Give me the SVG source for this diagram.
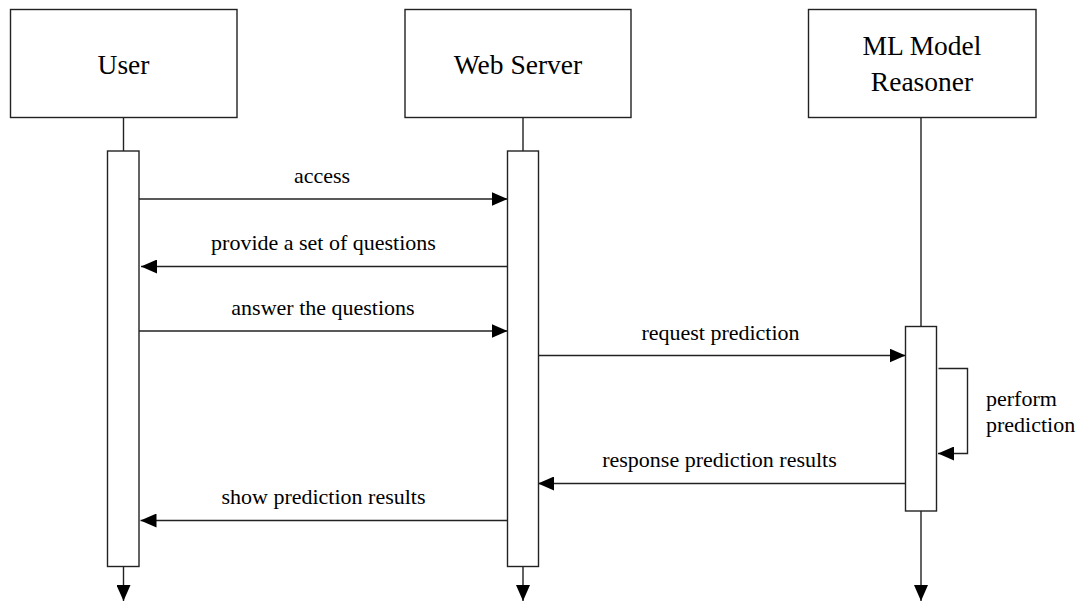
<svg xmlns="http://www.w3.org/2000/svg" width="1081" height="601" viewBox="0 0 1081 601">
<style>
.box{fill:#fff;stroke:#222;stroke-width:1.4}
.line{fill:none;stroke:#222;stroke-width:1.4}
.head{font-family:"Liberation Serif","Times New Roman",serif;font-size:27.5px;fill:#000;text-anchor:middle}
.lbl{font-family:"Liberation Serif","Times New Roman",serif;font-size:22px;fill:#000;text-anchor:middle}
.lbll{font-family:"Liberation Serif","Times New Roman",serif;font-size:22px;fill:#000}
</style>
<defs>
<marker id="arr" markerWidth="16" markerHeight="14" refX="16" refY="7" orient="auto" markerUnits="userSpaceOnUse">
<path d="M0,0 L16,7 L0,14 Z" fill="#000"/>
</marker>
</defs>
<rect width="1081" height="601" fill="#fff"/>
<g id="connectors">
<!-- lifelines -->
<line class="line" x1="123.5" y1="117" x2="123.5" y2="151"/>
<line class="line" x1="123.5" y1="566" x2="123.5" y2="601" marker-end="url(#arr)"/>
<line class="line" x1="523" y1="117" x2="523" y2="151"/>
<line class="line" x1="523" y1="566" x2="523" y2="601" marker-end="url(#arr)"/>
<line class="line" x1="921" y1="117" x2="921" y2="326"/>
<line class="line" x1="921" y1="511" x2="921" y2="601" marker-end="url(#arr)"/>
<!-- messages -->
<line class="line" x1="139" y1="199" x2="507.5" y2="199" marker-end="url(#arr)"/>
<line class="line" x1="511" y1="266.5" x2="141" y2="266.5" marker-end="url(#arr)"/>
<line class="line" x1="139" y1="331" x2="507.5" y2="331" marker-end="url(#arr)"/>
<line class="line" x1="538.5" y1="355.5" x2="905.5" y2="355.5" marker-end="url(#arr)"/>
<path class="line" d="M938.5,368.5 H967.5 V453.5 H938" marker-end="url(#arr)"/>
<line class="line" x1="905.5" y1="483.5" x2="538" y2="483.5" marker-end="url(#arr)"/>
<line class="line" x1="507.5" y1="520.5" x2="140.5" y2="520.5" marker-end="url(#arr)"/>
</g>
<g id="user">
<rect class="box" x="10.5" y="9.5" width="226.5" height="108"/>
<text class="head" x="123.5" y="74">User</text>
<rect class="box" x="107.5" y="151" width="31.5" height="415.5"/>
</g>
<g id="webserver">
<rect class="box" x="405" y="9.5" width="226" height="108"/>
<text class="head" x="518" y="74">Web Server</text>
<rect class="box" x="507.5" y="151" width="31" height="415.5"/>
</g>
<g id="mlmodel">
<rect class="box" x="808.5" y="9.5" width="227.5" height="108"/>
<text class="head" x="922" y="55">ML Model</text>
<text class="head" x="922" y="90.5">Reasoner</text>
<rect class="box" x="905.5" y="326.5" width="31" height="184.5"/>
</g>
<g id="labels">
<text class="lbl" x="322" y="183">access</text>
<text class="lbl" x="323.5" y="250">provide a set of questions</text>
<text class="lbl" x="323" y="315">answer the questions</text>
<text class="lbl" x="720.5" y="339.5">request prediction</text>
<text class="lbll" x="986" y="405.5">perform</text>
<text class="lbll" x="986" y="431.5">prediction</text>
<text class="lbl" x="719.5" y="467">response prediction results</text>
<text class="lbl" x="323.5" y="504">show prediction results</text>
</g>
</svg>
